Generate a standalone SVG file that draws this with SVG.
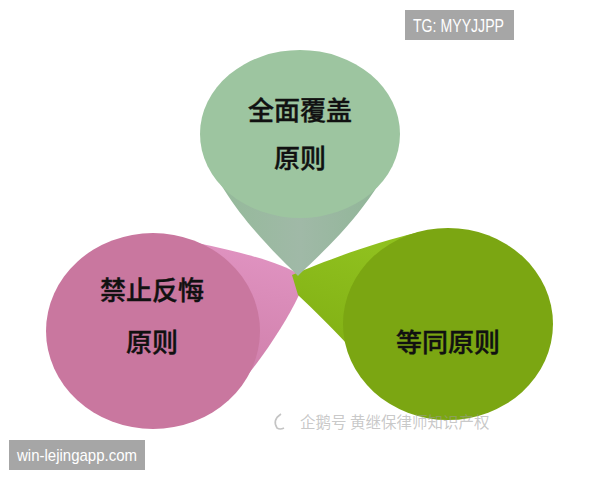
<svg xmlns="http://www.w3.org/2000/svg" width="600" height="480" viewBox="0 0 600 480">
<style>
.lbl{font-family:"Noto Sans CJK SC","Noto Sans",sans-serif;font-weight:500;font-size:26px;fill:#111;stroke:#111;stroke-width:0.4;text-anchor:middle}
.wm{font-family:"Noto Sans CJK SC","Noto Sans",sans-serif;font-size:15.5px;fill:#9a9a9a;fill-opacity:0.55}
.tag{font-family:"Liberation Sans",Arial,sans-serif;fill:#fff}
</style>
<defs>
<linearGradient id="gTop" x1="200" y1="0" x2="400" y2="0" gradientUnits="userSpaceOnUse">
<stop offset="0" stop-color="#92ba97"/><stop offset="0.5" stop-color="#a0b9a7"/><stop offset="1" stop-color="#8db594"/>
</linearGradient>
<linearGradient id="gPink" x1="240" y1="380" x2="270" y2="250" gradientUnits="userSpaceOnUse">
<stop offset="0" stop-color="#cf7faa"/><stop offset="1" stop-color="#e093c1"/>
</linearGradient>
<linearGradient id="gGreen" x1="330" y1="330" x2="360" y2="245" gradientUnits="userSpaceOnUse">
<stop offset="0" stop-color="#84b316"/><stop offset="1" stop-color="#8fc01e"/>
</linearGradient>
</defs>
<rect width="600" height="480" fill="#fff"/>
<g id="connectors"/>
<g id="node-left">
<path d="M153,240 L197,243 C240,252 280,262 300,275 L299,295 C285,325 255,370 222,405 L153,420 Z" fill="url(#gPink)"/>
<ellipse cx="153" cy="331" rx="107" ry="98" fill="#c9779f"/>
<text class="lbl" x="152" y="300">禁止反悔</text>
<text class="lbl" x="152" y="352">原则</text>
</g>
<g id="node-right">
<path d="M292,275 C325,261 375,242 420,232 L448,324 L382,384 C365,362 330,325 298,295 Z" fill="url(#gGreen)"/>
<ellipse cx="448" cy="324" rx="105" ry="96" fill="#7ba612"/>
<text class="lbl" x="448" y="352">等同原则</text>
</g>
<g id="node-top">
<path d="M298,276 C285,262 220,205 201,140 L399,140 C380,205 311,262 298,276 Z" fill="url(#gTop)"/>
<ellipse cx="300" cy="134" rx="100" ry="84" fill="#9dc5a0"/>
<text class="lbl" x="300" y="120">全面覆盖</text>
<text class="lbl" x="300" y="168">原则</text>
</g>
<g id="watermark">
<path d="M281,414 Q272,420 277,428 Q280,430 284,428" fill="none" stroke="#c4c4c4" stroke-width="1.6"/>
<text class="wm" x="300" y="428">企鹅号 黄继保律师知识产权</text>
</g>
<g id="tag-top">
<rect x="405" y="10" width="109" height="30" fill="#a6a6a6"/>
<text class="tag" x="413" y="32" font-size="18" textLength="91" lengthAdjust="spacingAndGlyphs">TG: MYYJJPP</text>
</g>
<g id="tag-bottom">
<rect x="9" y="440" width="136" height="30" fill="#a6a6a6"/>
<text class="tag" x="17" y="461" font-size="17" textLength="120" lengthAdjust="spacingAndGlyphs">win-lejingapp.com</text>
</g>
</svg>
